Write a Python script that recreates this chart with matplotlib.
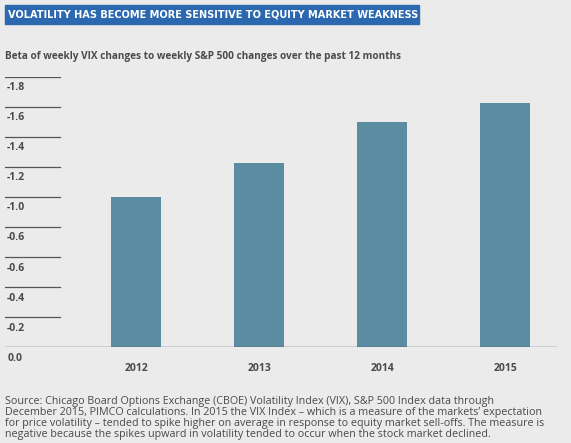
import matplotlib
matplotlib.use('Agg')
import matplotlib.pyplot as plt
import matplotlib.patches as patches
from matplotlib import font_manager

# data
years = ['2012', '2013', '2014', '2015']
beta = [1.00, 1.23, 1.50, 1.63]
tick_vals = [1.8, 1.6, 1.4, 1.2, 1.0, 0.8, 0.6, 0.4, 0.2, 0.0]
tick_text = ['-1.8', '-1.6', '-1.4', '-1.2', '-1.0', '-0.6', '-0.6', '-0.4', '-0.2', '0.0']

title = 'VOLATILITY HAS BECOME MORE SENSITIVE TO EQUITY MARKET WEAKNESS'
subtitle = 'Beta of weekly VIX changes to weekly S&P 500 changes over the past 12 months'
note = ('Source: Chicago Board Options Exchange (CBOE) Volatility Index (VIX), S&P 500 Index data through\n'
        'December 2015, PIMCO calculations. In 2015 the VIX Index \u2013 which is a measure of the markets\u2019 expectation\n'
        'for price volatility \u2013 tended to spike higher on average in response to equity market sell-offs. The measure is\n'
        'negative because the spikes upward in volatility tended to occur when the stock market declined.')

bg = '#ebebeb'
bar_col = '#5b8ca1'
txt = '#4a4a4a'
W, H = 571, 443

plt.rcParams['font.family'] = ['Open Sans', 'DejaVu Sans']

# look for a condensed bold face for the title
cond = None
for f in font_manager.fontManager.ttflist:
    if ('Condensed' in f.name or 'Narrow' in f.name or f.stretch in ('condensed', 'semi-condensed')) \
            and f.weight in ('bold', 700, 'semibold', 600):
        cond = f.fname
        break
if cond is None:
    for f in font_manager.fontManager.ttflist:
        if 'Condensed' in f.name or 'Narrow' in f.name or f.stretch in ('condensed', 'semi-condensed'):
            cond = f.fname
            break

fig = plt.figure(figsize=(W / 100, H / 100), dpi=100, facecolor=bg)

# title box
fig.patches.append(patches.Rectangle((5 / W, 1 - 24 / H), 414 / W, 19 / H,
                                     transform=fig.transFigure, color='#2b68b0', zorder=0))
if cond:
    tprops = dict(fontproperties=font_manager.FontProperties(fname=cond, size=7.8, weight='bold'))
else:
    tprops = dict(fontsize=7.1, fontweight='bold', family=['DejaVu Sans'])
t = fig.text(8 / W, 1 - 14.5 / H, title, color='white', va='center', ha='left', **tprops)

fig.text(5 / W, 1 - 57 / H, subtitle, color=txt, fontsize=7.2, fontweight='bold',
         va='center', ha='left')

ax = fig.add_axes([5 / W, (H - 347.3) / H, 552 / W, 270.3 / H])
ax.set_facecolor(bg)
x = list(range(len(years)))
ax.bar(x, beta, width=0.407, color=bar_col, zorder=2)
ax.set_xlim(-1.065, 3.42)
ax.set_ylim(0, 1.8)
for s in ax.spines.values():
    s.set_visible(False)
ax.set_xticks([])
ax.set_yticks([])

for v, tt in zip(tick_vals, tick_text):
    if v == 0:
        ax.axhline(0, color='#555555', lw=1.0, zorder=3)
    else:
        ax.axhline(v, xmin=0, xmax=0.1, color='#555555', lw=0.9, zorder=3)
    ax.text(0.004, v - 0.072, tt, transform=ax.get_yaxis_transform(), color=txt,
            fontsize=7.5, fontweight='bold', va='center', ha='left', clip_on=False)

for xi, y in zip(x, years):
    ax.text(xi, -0.14, y, color=txt, fontsize=7.5, fontweight='bold',
            ha='center', va='center', clip_on=False)

fig.text(5 / W, 1 - 396 / H, note, color=txt, fontsize=7.75, va='top', ha='left',
         linespacing=1.02)

fig.savefig('out.png', dpi=100, facecolor=bg)
